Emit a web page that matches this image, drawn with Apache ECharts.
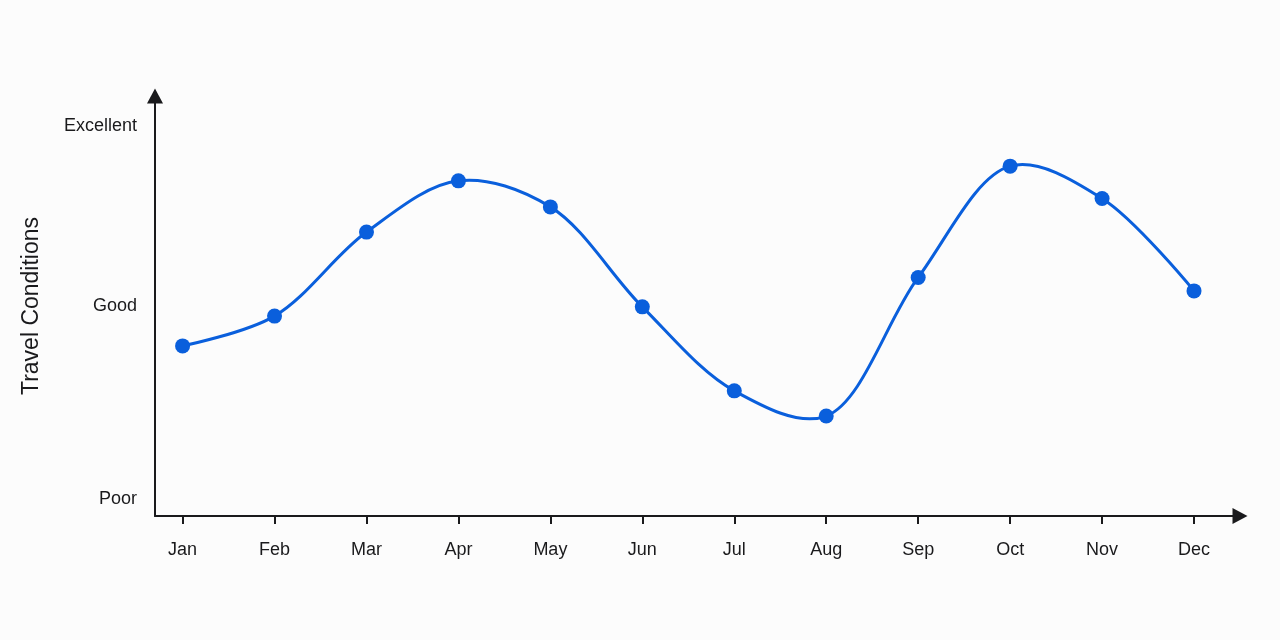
<!DOCTYPE html>
<html>
<head>
<meta charset="utf-8">
<title>Travel Conditions</title>
<script src="https://cdn.jsdelivr.net/npm/echarts@6/dist/echarts.min.js"></script>
<style>
    html, body { margin: 0; padding: 0; background: #fcfcfc; }
    #chart { width: 1280px; height: 640px; }
</style>
</head>
<body>
<div id="chart"></div>
<script>

// Chart data
// ------------------------------

var months = ['Jan', 'Feb', 'Mar', 'Apr', 'May', 'Jun', 'Jul', 'Aug', 'Sep', 'Oct', 'Nov', 'Dec'];
var conditionScores = [40.5, 47.6, 67.6, 79.8, 73.6, 49.8, 29.8, 23.8, 56.8, 83.3, 75.6, 53.6];
var levelNames = ['Poor', 'Good', 'Excellent'];
var levelValues = [4, 50, 92.9];


// Setup chart
// ------------------------------

var chartElement = document.getElementById('chart');
var chart = echarts.init(chartElement, null, { renderer: 'canvas' });

var axisColor = '#1a1a1c';
var lineColor = '#0a5fdc';

var monthIndexes = months.map(function(m, i) { return i; });
var points = conditionScores.map(function(v, i) { return [i, v]; });

// Centripetal Catmull-Rom segment from point i to i+1 (pixel space)
var ALPHA = 0.5;
var dist = function(a, b) {
    var dx = a[0] - b[0], dy = a[1] - b[1];
    return Math.sqrt(dx * dx + dy * dy);
};

var renderSegment = function(params, api) {
    var i = params.dataIndex;
    var n = points.length;
    if (i >= n - 1) {
        return null;
    }
    var p0 = api.coord(points[Math.max(i - 1, 0)]);
    var p1 = api.coord(points[i]);
    var p2 = api.coord(points[i + 1]);
    var p3 = api.coord(points[Math.min(i + 2, n - 1)]);

    var l01 = Math.pow(dist(p0, p1), ALPHA), l01_2 = l01 * l01;
    var l12 = Math.pow(dist(p1, p2), ALPHA), l12_2 = l12 * l12;
    var l23 = Math.pow(dist(p2, p3), ALPHA), l23_2 = l23 * l23;

    var c1 = [p1[0], p1[1]];
    var c2 = [p2[0], p2[1]];
    if (l01 > 1e-6) {
        var a = 2 * l01_2 + 3 * l01 * l12 + l12_2;
        var na = 3 * l01 * (l01 + l12);
        c1 = [
            (p1[0] * a - p0[0] * l12_2 + p2[0] * l01_2) / na,
            (p1[1] * a - p0[1] * l12_2 + p2[1] * l01_2) / na
        ];
    }
    if (l23 > 1e-6) {
        var b = 2 * l23_2 + 3 * l23 * l12 + l12_2;
        var nb = 3 * l23 * (l23 + l12);
        c2 = [
            (p2[0] * b + p1[0] * l23_2 - p3[0] * l12_2) / nb,
            (p2[1] * b + p1[1] * l23_2 - p3[1] * l12_2) / nb
        ];
    }

    return {
        type: 'bezierCurve',
        shape: {
            x1: p1[0], y1: p1[1],
            cpx1: c1[0], cpy1: c1[1],
            cpx2: c2[0], cpy2: c2[1],
            x2: p2[0], y2: p2[1]
        },
        style: {
            fill: null,
            stroke: lineColor,
            lineWidth: 3,
            lineCap: 'round'
        }
    };
};

var options = {
    backgroundColor: '#fcfcfc',
    animation: false,
    textStyle: {
        fontFamily: '"Liberation Sans", Arial, sans-serif'
    },
    grid: {
        left: 155,
        right: 40,
        top: 96,
        bottom: 124
    },
    xAxis: {
        type: 'value',
        min: -0.3,
        max: 11.5,
        splitLine: { show: false },
        axisLine: {
            show: true,
            onZero: false,
            symbol: ['none', 'triangle'],
            symbolSize: [16, 15],
            lineStyle: { color: axisColor, width: 2 }
        },
        axisTick: {
            show: true,
            customValues: monthIndexes,
            length: 8,
            lineStyle: { color: axisColor, width: 2 }
        },
        axisLabel: {
            customValues: monthIndexes,
            margin: 25,
            fontSize: 18,
            color: axisColor,
            formatter: function(v) { return months[Math.round(v)]; }
        }
    },
    yAxis: {
        type: 'value',
        min: 0,
        max: 100,
        name: 'Travel Conditions',
        nameLocation: 'middle',
        nameGap: 112,
        nameTextStyle: { fontSize: 23, color: axisColor },
        splitLine: { show: false },
        axisLine: {
            show: true,
            onZero: false,
            symbol: ['none', 'triangle'],
            symbolSize: [16, 15],
            lineStyle: { color: axisColor, width: 2 }
        },
        axisTick: { show: false },
        axisLabel: {
            customValues: levelValues,
            margin: 18,
            fontSize: 18,
            color: axisColor,
            formatter: function(v) {
                var idx = levelValues.indexOf(v);
                return idx >= 0 ? levelNames[idx] : '';
            }
        }
    },
    series: [
        {
            type: 'custom',
            renderItem: renderSegment,
            data: points,
            encode: { x: 0, y: 1 },
            z: 2
        },
        {
            type: 'scatter',
            data: points,
            symbol: 'circle',
            symbolSize: 15,
            itemStyle: { color: lineColor, opacity: 1 },
            z: 3
        }
    ]
};

chart.setOption(options);

window.addEventListener('resize', function() {
    chart.resize();
});
</script>
</body>
</html>
